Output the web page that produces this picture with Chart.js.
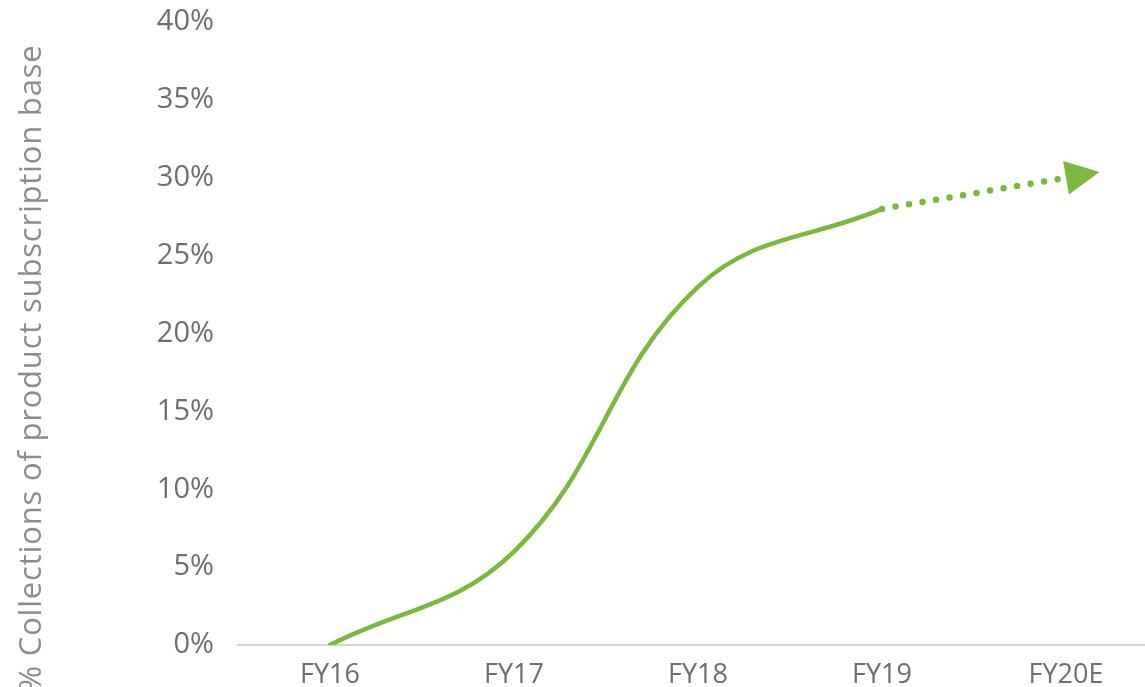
<!DOCTYPE html>
<html>
<head>
<meta charset="utf-8">
<script src="https://cdn.jsdelivr.net/npm/chart.js@4"></script>
<style>
  html, body { margin: 0; padding: 0; background: #fff; overflow: hidden; }
  #wrap { width: 1158px; height: 687px; position: relative; }
</style>
</head>
<body>
<div id="wrap"><canvas id="chart"></canvas></div>
<script>
// ========================
// DATOS
// ========================
const categories = ["FY16", "FY17", "FY18", "FY19", "FY20E"];
const actualValues = [0, 6, 23, 28, null];
const forecastValues = [null, null, null, 28, 30];
const yTicks = [0, 5, 10, 15, 20, 25, 30, 35, 40];
const yTitle = "% Collections of product subscription base";

const GREEN = "#7ab83e";
const TEXT = "#6e6e6e";
const FONT = "'Open Sans', 'Noto Sans', sans-serif";

// ========================
// PLUGINS
// ========================
// arrow head at the end of the forecast line
const arrowPlugin = {
  id: "arrowHead",
  afterDatasetsDraw(chart) {
    const meta = chart.getDatasetMeta(1);
    const pts = meta.data;
    const a = pts[3], b = pts[4];
    if (!a || !b) return;
    const ang = Math.atan2(b.y - a.y, b.x - a.x);
    const len = 34, half = 17;
    const ctx = chart.ctx;
    ctx.save();
    ctx.translate(b.x, b.y);
    ctx.rotate(ang);
    ctx.beginPath();
    ctx.moveTo(len, 0);
    ctx.lineTo(0, -half);
    ctx.lineTo(0, half);
    ctx.closePath();
    ctx.fillStyle = GREEN;
    ctx.fill();
    ctx.restore();
  }
};

// vertical axis title
const titlePlugin = {
  id: "yTitle",
  afterDraw(chart) {
    const ctx = chart.ctx;
    ctx.save();
    ctx.translate(32, 368);
    ctx.rotate(-Math.PI / 2);
    ctx.font = "31px " + FONT;
    ctx.letterSpacing = "0.8px";
    ctx.fillStyle = "#8c8c8c";
    ctx.textAlign = "center";
    ctx.textBaseline = "middle";
    ctx.fillText(yTitle, 0, 0);
    ctx.restore();
  }
};

// ========================
// GRAFICO
// ========================
new Chart(document.getElementById("chart"), {
  type: "line",
  data: {
    labels: categories,
    datasets: [
      {
        data: actualValues,
        borderColor: GREEN,
        borderWidth: 4.5,
        borderCapStyle: "round",
        tension: 0.4,
        pointRadius: 0,
        fill: false
      },
      {
        data: forecastValues,
        borderColor: GREEN,
        borderWidth: 6.5,
        borderCapStyle: "round",
        borderDash: [0, 13.7],
        tension: 0,
        pointRadius: 0,
        fill: false
      }
    ]
  },
  options: {
    responsive: true,
    maintainAspectRatio: false,
    animation: false,
    layout: { padding: 0 },
    plugins: {
      legend: { display: false },
      tooltip: { enabled: false }
    },
    scales: {
      x: {
        offset: true,
        grid: { display: false },
        border: { display: true, color: "#d6d6d6", width: 2 },
        ticks: { color: TEXT, font: { family: FONT, size: 27 }, padding: 6, maxRotation: 0 },
        afterFit(scale) { scale.height = 42; }
      },
      y: {
        min: 0,
        max: 40,
        afterBuildTicks(scale) { scale.ticks = yTicks.map(v => ({ value: v })); },
        grid: { display: false },
        border: { display: false },
        ticks: {
          color: TEXT,
          font: { family: FONT, size: 29 },
          padding: 16,
          callback: v => v + "%"
        },
        afterFit(scale) {
          scale.width = 238;
          scale.paddingTop = 22;
          scale.paddingBottom = 0;
        }
      }
    }
  },
  plugins: [arrowPlugin, titlePlugin]
});
</script>
</body>
</html>
